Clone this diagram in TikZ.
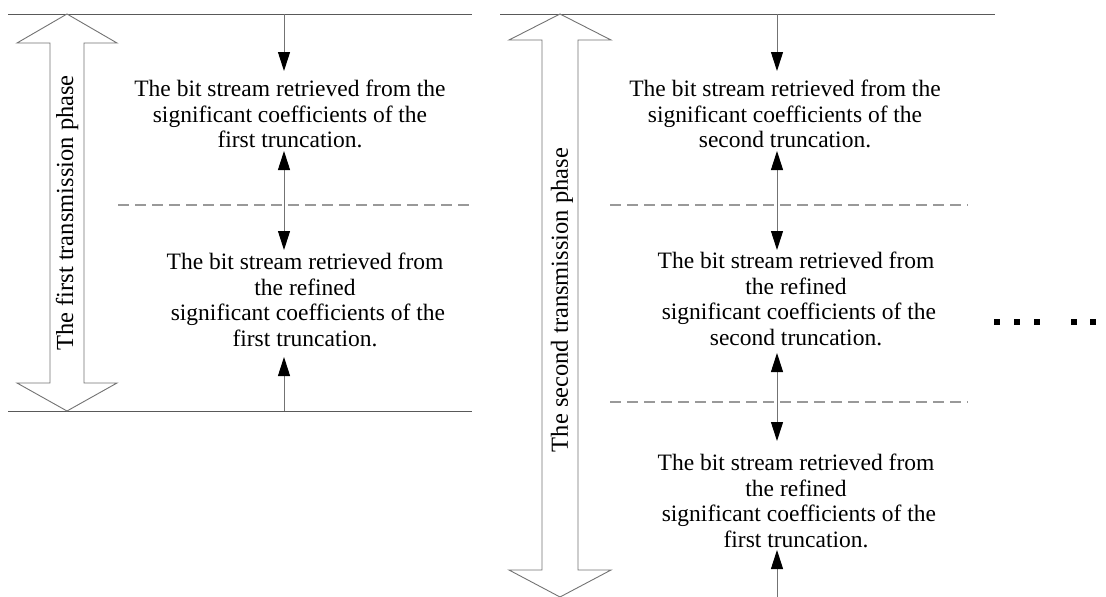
\documentclass[tikz,border=0pt]{standalone}
\usepackage{fontspec}
\setmainfont{Liberation Serif}
\usetikzlibrary{arrows.meta}
\begin{document}
\begin{tikzpicture}[x=1pt,y=-1pt,
  rule/.style={draw=black!65, line width=0.9pt},
  sep/.style={draw=black!40, line width=1.3pt, dash pattern=on 11pt off 6pt},
  blockarrow/.style={draw=black!55, line width=0.9pt, fill=white},
  flow/.style={draw=black!55, line width=1pt, -{Triangle[length=19pt,width=12pt,black]}},
  bflow/.style={draw=black!55, line width=1pt, {Triangle[length=19pt,width=12pt,black]}-{Triangle[length=19pt,width=12pt,black]}},
  txt/.style={font=\fontsize{23.5}{25.5}\selectfont, align=center, inner sep=0pt},
  phase/.style={font=\fontsize{24.5}{26}\selectfont, rotate=90, inner sep=0pt},
  dotsq/.style={fill=black}]
\useasboundingbox (0,0) rectangle (1106,597);
% left panel
\coordinate (lt1) at (8,14); \coordinate (lt2) at (472,14);
\coordinate (lb1) at (8,411); \coordinate (lb2) at (472,411);
\draw[rule] (lt1) -- (lt2);
\draw[rule] (lb1) -- (lb2);
\draw[blockarrow] (67,14) -- (117,43) -- (84,43) -- (84,383) -- (117,383) -- (67,411) -- (17,383) -- (50,383) -- (50,43) -- (17,43) -- cycle;
\node[phase] (p1) at (67,213) {The first transmission phase};
\node[txt] (a1) at (290,114) {The bit stream retrieved from the\\significant coefficients of the\\first truncation.};
\node[txt] (a2) at (305,300) {The bit stream retrieved from\\the refined\\\ significant coefficients of the\\first truncation.};
\coordinate (s1a) at (118,205); \coordinate (s1b) at (472,205);
\draw[sep] (s1a) -- (s1b);
\coordinate (la0) at (284,14); \coordinate (la1) at (284,71);
\coordinate (la2) at (284,151); \coordinate (la3) at (284,250);
\coordinate (la4) at (284,411); \coordinate (la5) at (284,357);
\draw[flow] (la0) -- (la1);
\draw[bflow] (la2) -- (la3);
\draw[flow] (la4) -- (la5);
% right panel
\coordinate (rt1) at (500,14); \coordinate (rt2) at (995,14);
\draw[rule] (rt1) -- (rt2);
\draw[blockarrow] (560,14) -- (611,40) -- (578,40) -- (578,570) -- (611,570) -- (560,597) -- (509,570) -- (542,570) -- (542,40) -- (509,40) -- cycle;
\node[phase] (p2) at (562,300) {The second transmission phase};
\node[txt] (b1) at (785,114) {The bit stream retrieved from the\\significant coefficients of the\\second truncation.};
\node[txt] (b2) at (796,299) {The bit stream retrieved from\\the refined\\\ significant coefficients of the\\second truncation.};
\node[txt] (b3) at (796,501) {The bit stream retrieved from\\the refined\\\ significant coefficients of the\\first truncation.};
\coordinate (s2a) at (610,205); \coordinate (s2b) at (968,205);
\coordinate (s3a) at (610,402); \coordinate (s3b) at (968,402);
\draw[sep] (s2a) -- (s2b);
\draw[sep] (s3a) -- (s3b);
\coordinate (ra0) at (777,14); \coordinate (ra1) at (777,71);
\coordinate (ra2) at (777,151); \coordinate (ra3) at (777,250);
\coordinate (ra4) at (777,353); \coordinate (ra5) at (777,441);
\coordinate (ra6) at (777,597); \coordinate (ra7) at (777,550);
\draw[flow] (ra0) -- (ra1);
\draw[bflow] (ra2) -- (ra3);
\draw[bflow] (ra4) -- (ra5);
\draw[flow] (ra6) -- (ra7);
% continuation dots
\foreach \x in {997,1017,1037,1074,1093,1112}
  \fill[dotsq] (\x-3,319) rectangle (\x+3,325);
\end{tikzpicture}
\end{document}
